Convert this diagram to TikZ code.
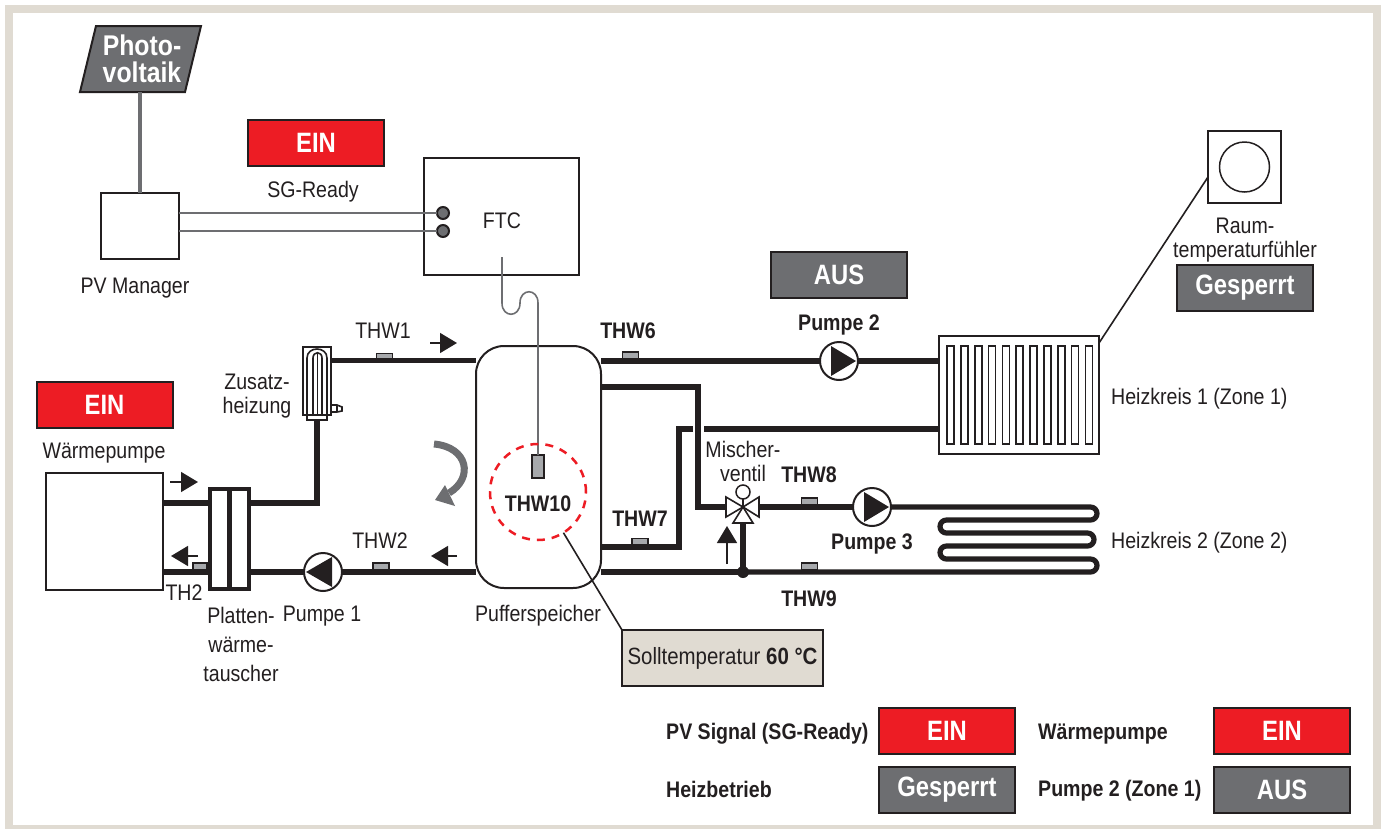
\documentclass[tikz,border=0pt]{standalone}
\usepackage{fontspec}
\setmainfont[FakeStretch=0.87]{Liberation Sans}
\newfontfamily\stateface[FakeStretch=0.85]{Liberation Sans}
\usetikzlibrary{arrows.meta,positioning,shapes.geometric}
\definecolor{hpred}{HTML}{ED1C24}
\definecolor{hpgray}{HTML}{6D6E71}
\definecolor{hpdark}{HTML}{231F20}
\definecolor{hpbeige}{HTML}{E0DBD2}
\definecolor{hpsens}{HTML}{A7A9AC}
\tikzset{
  lbl/.style={inner sep=0pt,align=center,text=hpdark,font=\fontsize{22.5}{24}\selectfont},
  blbl/.style={lbl,font=\fontsize{22.5}{24}\selectfont\bfseries},
  unit/.style={draw=hpdark,line width=2pt,fill=white,inner sep=0pt,outer sep=0pt},
  stateon/.style={unit,fill=hpred,minimum width=136pt,minimum height=46pt,text=white,font=\fontsize{28}{28}\stateface\bfseries},
  stateoff/.style={stateon,fill=hpgray},
  sensor/.style={draw=hpdark,line width=1.5pt,fill=hpsens,minimum width=16pt,minimum height=7pt,inner sep=0pt,outer sep=0pt},
  pipe/.style={draw=hpdark,line width=5.2pt},
  signal/.style={draw=hpgray,line width=1.6pt},
  flow/.style={draw=hpdark,line width=1.5pt,-{Triangle[length=17pt,width=20pt]}},
  pump/.style={circle,draw=hpdark,line width=2pt,fill=white,minimum size=38pt,inner sep=0pt,outer sep=0pt},
  thinl/.style={draw=hpdark,line width=1.6pt}
}
\begin{document}
\begin{tikzpicture}[x=1pt,y=-1pt,>=Latex]
\useasboundingbox (0,0) rectangle (1385,828);
\fill[white] (0,0) rectangle (1385,828);
\draw[hpbeige,line width=8pt] (9,9) rectangle (1377,829);

\draw[draw=hpdark,line width=2pt,fill=hpgray] (96,26) -- (201,26) -- (185,92) -- (80,92) -- cycle;
\node[lbl,text=white,font=\fontsize{28.5}{27}\selectfont\bfseries] (pvpanel) at (142,59) {Photo-\\voltaik};
\coordinate (pvfoot) at (140,92);
\node[unit,minimum width=78pt,minimum height=66pt] (pvman) at (140,226) {};
\node[lbl] (pvmanl) at (135,288) {PV Manager};
\draw[draw=hpgray,line width=4pt] (pvfoot) -- (pvman.north);
\node[stateon] (einsg) at (316,143) {EIN};
\node[lbl] (sgl) at (313,192) {SG-Ready};
\node[unit,minimum width=155pt,minimum height=117pt] (ftc) at (501.5,216.5) {};
\node[lbl] (ftcl) at (502,221) {FTC};
\node[circle,draw=hpdark,line width=2pt,fill=hpgray,minimum size=12pt,inner sep=0pt,outer sep=0pt] (ta) at (443,213) {};
\node[circle,draw=hpdark,line width=2pt,fill=hpgray,minimum size=12pt,inner sep=0pt,outer sep=0pt] (tb) at (443,231) {};
\draw[signal] (pvman.east |- ta) -- (ta.west);
\draw[signal] (pvman.east |- tb) -- (tb.west);

\node[unit,minimum width=125pt,minimum height=242pt,rounded corners=28pt,fill=none] (tank) at (538.5,467) {};
\node[lbl] (tankl) at (538,616) {Pufferspeicher};
\node[sensor,minimum width=12pt,minimum height=23pt,line width=2pt] (thw10s) at (538,466.5) {};
\coordinate (ftcw) at (502,257);
\draw[signal] (ftcw) -- (502,303) .. controls (502,318) and (520,318) .. (520,303) .. controls (520,288) and (538,288) .. (538,303) -- (thw10s.north);
\node[circle,draw=hpred,dashed,dash pattern=on 8pt off 7pt,line width=2.5pt,minimum size=96pt,inner sep=0pt,outer sep=0pt] (coil) at (538,492) {};
\node[blbl] (thw10) at (538,504) {THW10};
\node[unit,fill=hpbeige,minimum width=201pt,minimum height=56pt,lbl,font=\fontsize{23.5}{24}\selectfont] (soll) at (722.5,658) {Solltemperatur \textbf{60 °C}};
\draw[thinl] (coil.-58) -- (soll.north west);

\node[stateon] (einwp) at (104.5,405) {EIN};
\node[lbl] (wpl) at (104,453) {Wärmepumpe};
\node[unit,minimum width=117pt,minimum height=117pt] (hp) at (104.5,531.5) {};
\node[unit,line width=4.5pt,fill=white,minimum width=39pt,minimum height=100pt] (hx) at (229.5,539) {};
\draw[pipe] (hx.north) -- (hx.south);
\node[lbl] (hxl) at (241,644) {Platten-\\[5pt]wärme-\\[5pt]tauscher};
\coordinate (hpo) at (hp.east |- 0,503);
\coordinate (hpr) at (hp.east |- 0,572);

\node[unit,minimum width=28pt,minimum height=68pt] (heater) at (317,381) {};
\node[unit,minimum width=20pt,minimum height=5pt] (heaterb) at (317,417.5) {};
\draw[thinl] (307,415) -- (307,358) .. controls (307,346) and (327,346) .. (327,358) -- (327,415);
\draw[thinl] (313,415) -- (313,358) .. controls (313,351) and (322,351) .. (322,358) -- (322,415);
\draw[thinl] (317.5,352) -- (317.5,415);
\draw[thinl] (332,405) -- (337,405) -- (342,407) -- (342,411) -- (337,412) -- (332,412) (337,405) -- (337,412);
\node[lbl] (heaterl) at (257,396) {Zusatz-\\heizung};

\node[sensor] (thw1s) at (384.5,357) {};
\node[sensor] (thw2s) at (381,566.5) {};
\node[sensor,minimum width=14pt] (th2s) at (200,566.5) {};
\node[sensor] (thw6s) at (630.5,355.5) {};
\node[sensor] (thw7s) at (640,542) {};
\node[sensor] (thw8s) at (809.5,501.5) {};
\node[sensor] (thw9s) at (809.5,566.5) {};
\node[lbl] (thw1) at (383,331) {THW1};
\node[lbl] (thw2) at (380,541) {THW2};
\node[lbl] (th2) at (184,593) {TH2};
\node[blbl] (thw6) at (628,331) {THW6};
\node[blbl] (thw7) at (640,519) {THW7};
\node[blbl] (thw8) at (809,475) {THW8};
\node[blbl] (thw9) at (809,599) {THW9};

\node[pump] (pump1) at (323,572) {};
\node[pump] (pump2) at (839,361) {};
\node[pump] (pump3) at (872,507) {};
\fill[hpdark] ([shift={(9,-15)}]pump1.center) -- ([shift={(-17,0)}]pump1.center) -- ([shift={(9,15)}]pump1.center) -- cycle;
\foreach \p in {pump2,pump3}
  \fill[hpdark] ([shift={(-8,-15)}]\p.center) -- ([shift={(17,0)}]\p.center) -- ([shift={(-8,15)}]\p.center) -- cycle;
\node[lbl] (pump1l) at (322,616) {Pumpe 1};
\node[blbl] (pump2l) at (839,325) {Pumpe 2};
\node[blbl] (pump3l) at (872,544) {Pumpe 3};
\node[stateoff] (aus) at (839,275) {AUS};

\node[unit,minimum width=160pt,minimum height=118pt] (radi) at (1019,395) {};
\foreach \i in {0,...,10}
  \draw[thinl] ({947+13.85*\i},346) rectangle ({954+13.85*\i},444);
\node[lbl,anchor=west] (hk1) at (1111,399) {Heizkreis 1 (Zone 1)};
\node[lbl,anchor=west] (hk2) at (1111,543) {Heizkreis 2 (Zone 2)};
\node[unit,minimum width=73pt,minimum height=72pt] (room) at (1244.5,167) {};
\node[circle,draw=hpdark,line width=1.5pt,minimum size=50pt,inner sep=0pt,outer sep=0pt] (roomc) at (room.center) {};
\draw[thinl] ([yshift=-7pt]radi.north east) -- ([yshift=-10pt]room.west);
\node[lbl] (rooml) at (1245,240) {Raum-\\temperaturfühler};
\node[stateoff] (gesp) at (1245,288) {Gesperrt};

\coordinate (vc) at (743,507);
\coordinate (vl) at (726,507);
\coordinate (vr) at (759,507);
\coordinate (vb) at (743,523);
\node[lbl] (vall) at (743,461) {Mischer-\\ventil};
\node[circle,draw=hpdark,line width=1.5pt,fill=white,minimum size=14pt,inner sep=0pt,outer sep=0pt] (valvet) at (743,492) {};
\draw[thinl] (valvet.south) -- (vc);
\draw[thinl,fill=white] (vc) -- (726,497) -- (726,517) -- cycle;
\draw[thinl,fill=white] (vc) -- (759,497) -- (759,517) -- cycle;
\draw[thinl,fill=white] (vc) -- (733,523) -- (753,523) -- cycle;

\coordinate (hot) at (tank.east |- 0,387);
\coordinate (hotc) at (698,507);
\coordinate (ret) at (tank.east |- 0,547);
\coordinate (retc) at (679,429);
\coordinate (retg) at (693,429);
\coordinate (rets) at (704,429);
\coordinate (jun) at (743,572);
\draw[pipe] (hpo) -- (hx.west |- hpo);
\draw[pipe] (hx.east |- hpo) -| (heaterb.south);
\draw[pipe] (hpr) -- (hx.west |- hpr);
\draw[pipe] (hx.east |- hpr) -- (pump1.west);
\draw[pipe] (pump1.east) -- (tank.west |- pump1);
\draw[pipe] (heater.east |- thw1s.south) -- (tank.west |- thw1s.south);
\draw[pipe] (tank.east |- pump2) -- (pump2.west);
\draw[pipe] (pump2.east) -- (radi.west |- pump2);
\draw[pipe] (hot) -| (hotc) -- (vl);
\draw[pipe] (ret) -| (retc) -- (retg);
\draw[pipe] (rets) -- (radi.west |- rets);
\draw[pipe] (vr) -- (pump3.west);
\draw[pipe,rounded corners=6.5pt] (pump3.east) -- (1097,507) -- (1097,520) -- (940,520) -- (940,533) -- (1094,533) -- (1094,546) -- (940,546) -- (940,559) -- (1097,559) -- (1097,572) -- (jun);
\draw[pipe] (jun) -- (tank.east |- jun);
\draw[pipe] (vb) -- (jun);
\fill[hpdark] (jun) circle (6);

\coordinate (fa) at (170,482);
\coordinate (fb) at (198,482);
\coordinate (fc) at (198,556);
\coordinate (fd) at (171,556);
\coordinate (fe) at (430,343);
\coordinate (ff) at (457,343);
\coordinate (fg) at (457,556);
\coordinate (fh) at (431,556);
\coordinate (fi) at (727,564);
\coordinate (fj) at (727,526);
\draw[flow] (fa) -- (fb);
\draw[flow] (fc) -- (fd);
\draw[flow] (fe) -- (ff);
\draw[flow] (fg) -- (fh);
\draw[flow] (fi) -- (fj);
\draw[draw=hpgray,line width=7pt] (434,444) .. controls (468,447) and (474,478) .. (449,493);
\fill[hpgray] (435,500) -- (445,485) -- (455,506) -- cycle;

\node[blbl,anchor=west] (lg1) at (666,734) {PV Signal (SG-Ready)};
\node[blbl,anchor=west] (lg2) at (666,789) {Heizbetrieb};
\node[blbl,anchor=west] (lg3) at (1038,734) {Wärmepumpe};
\node[blbl,anchor=west] (lg4) at (1038,791) {Pumpe 2 (Zone 1)};
\node[stateon] (lgs1) at (947,731) {EIN};
\node[stateoff] (lgs2) at (947,789.5) {Gesperrt};
\node[stateon] (lgs3) at (1282,731) {EIN};
\node[stateoff] (lgs4) at (1282,789.5) {AUS};
\end{tikzpicture}
\end{document}
